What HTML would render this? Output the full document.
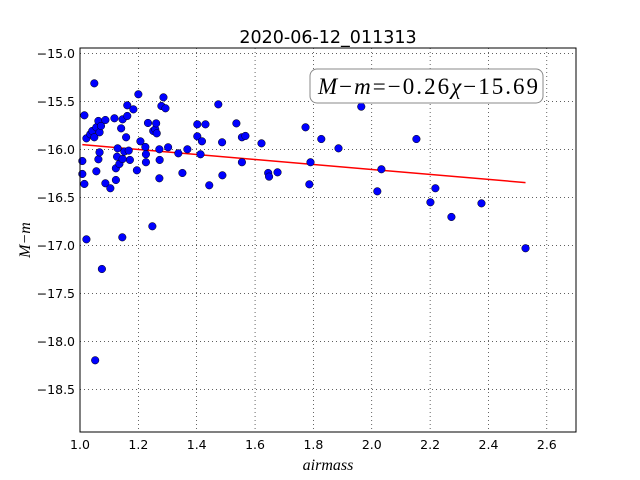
<!DOCTYPE html>
<html><head><meta charset="utf-8"><style>
body{margin:0;background:#fff;}
svg{display:block;font-family:"DejaVu Sans","Liberation Sans",sans-serif;}
</style></head><body>
<svg id="chart" width="640" height="480" viewBox="0 0 640 480">
<rect width="640" height="480" fill="#fff"/>
<g id="grid"></g>
<line id="fitline" stroke="#ff0000" stroke-width="1.5"/>
<g id="pts"></g>
<rect x="80" y="48" width="496" height="384" fill="none" stroke="#000" stroke-width="1"/>
<g id="ticks" font-size="12.5"></g>
<text x="328" y="43" text-anchor="middle" font-size="17.5">2020-06-12_011313</text>
<text x="328" y="470" text-anchor="middle" font-size="16" font-style="italic" font-family="Liberation Serif,serif">airmass</text>
<text transform="translate(30,240) rotate(-90)" text-anchor="middle" font-size="16" font-style="italic" font-family="Liberation Serif,serif">M−m</text>
<g>
<rect x="310" y="69" width="233" height="34" rx="7" fill="#fff" stroke="#888" stroke-width="1"/>
<text x="318" y="94" font-size="23" font-family="Liberation Serif,serif" textLength="220" lengthAdjust="spacing"><tspan font-style="italic">M</tspan>−<tspan font-style="italic">m</tspan>=−0.26<tspan font-style="italic">χ</tspan>−15.69</text>
</g>
</svg>
<script>
const airmass=[1.008,1.008,1.015,1.015,1.022,1.022,1.049,1.035,1.042,1.049,1.056,1.063,1.067,1.072,1.056,1.063,1.067,1.087,1.087,1.104,1.118,1.123,1.123,1.127,1.129,1.135,1.141,1.146,1.146,1.152,1.158,1.162,1.162,1.167,1.171,1.183,1.195,1.200,1.207,1.224,1.226,1.226,1.233,1.248,1.251,1.258,1.261,1.263,1.272,1.273,1.272,1.279,1.286,1.293,1.302,1.337,1.351,1.368,1.402,1.402,1.413,1.418,1.430,1.443,1.474,1.487,1.488,1.536,1.555,1.555,1.567,1.622,1.645,1.648,1.677,1.773,1.786,1.790,1.827,1.145,1.075,1.052,1.964,1.886,2.153,2.033,2.019,2.218,2.201,2.376,2.273,2.527];
const mag=[-16.122,-16.257,-16.361,-15.646,-16.938,-15.886,-15.313,-15.844,-15.809,-15.875,-15.771,-15.705,-15.823,-15.757,-16.229,-16.104,-16.032,-15.695,-16.354,-16.406,-15.677,-16.320,-16.198,-16.077,-15.990,-16.153,-15.782,-15.688,-16.101,-16.024,-15.875,-15.653,-15.542,-16.014,-16.111,-15.584,-16.219,-15.427,-15.917,-15.976,-16.052,-16.135,-15.726,-16.802,-15.809,-15.792,-15.730,-15.834,-16.000,-16.111,-16.302,-15.549,-15.459,-15.573,-15.979,-16.042,-16.247,-16.000,-15.740,-15.865,-16.052,-15.917,-15.740,-16.375,-15.532,-15.927,-16.271,-15.730,-15.875,-16.135,-15.861,-15.938,-16.247,-16.285,-16.240,-15.771,-16.365,-16.135,-15.893,-16.917,-17.247,-18.198,-15.556,-15.990,-15.893,-16.208,-16.438,-16.406,-16.552,-16.563,-16.705,-17.031];
const fitSlope=-0.26;
const fitIntercept=-15.69;
const xTicks=[1.0,1.2,1.4,1.6,1.8,2.0,2.2,2.4,2.6];
const yTicks=[-15.0,-15.5,-16.0,-16.5,-17.0,-17.5,-18.0,-18.5];
const X0=80,X1=576,XMIN=1.0,XMAX=2.7;
const YTOP=48,YBOT=432,YMAX=-14.945,YMIN=-18.945;
const sx=v=>X0+(v-XMIN)/(XMAX-XMIN)*(X1-X0);
const sy=v=>YTOP+(YMAX-v)/(YMAX-YMIN)*(YBOT-YTOP);
const NS="http://www.w3.org/2000/svg";
const grid=document.getElementById('grid'),ticks=document.getElementById('ticks'),pts=document.getElementById('pts');
function mk(tag,attrs,parent){const e=document.createElementNS(NS,tag);for(const k in attrs)e.setAttribute(k,attrs[k]);parent.appendChild(e);return e;}
xTicks.forEach(t=>{const x=sx(t);
 const g=mk('line',{x1:x,x2:x,y1:YTOP,y2:YBOT,stroke:'#000','stroke-width':0.6,'stroke-dasharray':'1,3'},grid);
 
 
 const tl=mk('text',{x:x,y:YBOT+17,'text-anchor':'middle'},ticks);
 
 
 tl.textContent=t.toFixed(1);});
yTicks.forEach(t=>{const y=sy(t);
 const g=mk('line',{x1:X0,x2:X1,y1:y,y2:y,stroke:'#000','stroke-width':0.6,'stroke-dasharray':'1,3'},grid);
 
 
 const tl=mk('text',{x:X0-5,y:y+4.5,'text-anchor':'end'},ticks);
 
 
 tl.textContent=t.toFixed(1).replace('-','\u2212');});
const fl=document.getElementById('fitline');
const xmin=Math.min(...airmass),xmax=Math.max(...airmass);
fl.setAttribute('x1',sx(xmin));fl.setAttribute('y1',sy(fitSlope*xmin+fitIntercept));
fl.setAttribute('x2',sx(xmax));fl.setAttribute('y2',sy(fitSlope*xmax+fitIntercept));
airmass.forEach((a,i)=>{
 const c=mk('circle',{cx:sx(a),cy:sy(mag[i]),r:3.8,fill:'#0000ff',stroke:'#000','stroke-width':0.5},pts);
 
 
});
</script>
</body></html>
